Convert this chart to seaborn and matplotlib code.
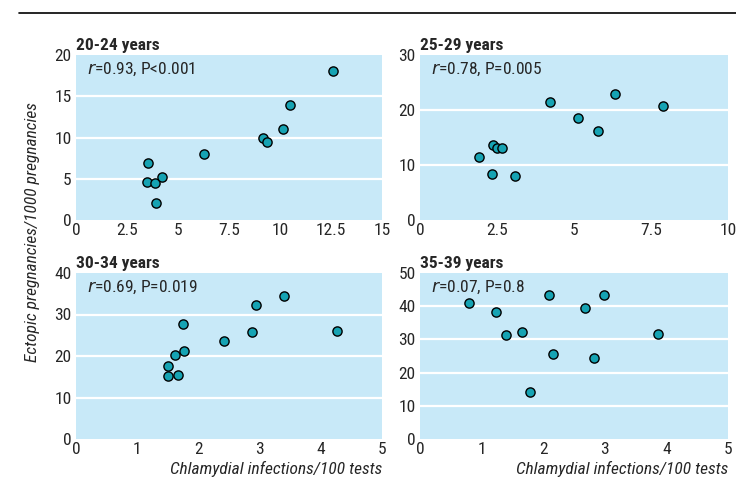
import matplotlib
matplotlib.use("Agg")
import matplotlib.pyplot as plt
import seaborn as sns
import pandas as pd
from matplotlib.lines import Line2D

sns.set_style("white")
FONT = ['Liberation Sans Narrow', 'Roboto Condensed', 'DejaVu Sans']
plt.rcParams['font.family'] = FONT
plt.rcParams['mathtext.fontset'] = 'custom'
plt.rcParams['mathtext.it'] = 'Liberation Sans Narrow:italic'
plt.rcParams['mathtext.rm'] = 'Liberation Sans Narrow'

# ---- data ----
titles = ["20-24 years", "25-29 years", "30-34 years", "35-39 years"]
stats = ["=0.93, P<0.001", "=0.78, P=0.005", "=0.69, P=0.019", "=0.07, P=0.8"]

x_2024 = [3.52, 3.46, 3.86, 4.24, 3.93, 6.28, 9.16, 9.37, 10.15, 10.49, 12.6]
y_2024 = [6.9, 4.6, 4.44, 5.17, 2.06, 7.96, 10.0, 9.45, 11.07, 13.9, 18.06]

x_2529 = [1.92, 2.34, 2.38, 2.50, 2.65, 3.07, 4.22, 5.14, 5.79, 6.32, 7.90]
y_2529 = [11.45, 8.36, 13.7, 13.15, 13.03, 8.0, 21.4, 18.5, 16.2, 22.97, 20.8]

x_3034 = [1.50, 1.51, 1.66, 1.62, 1.77, 1.75, 2.42, 2.88, 2.94, 3.40, 4.26]
y_3034 = [17.7, 15.1, 15.4, 20.3, 21.2, 27.7, 23.7, 25.7, 32.4, 34.4, 26.0]

x_3539 = [0.79, 1.23, 1.40, 1.65, 1.79, 2.10, 2.16, 2.68, 2.82, 2.98, 3.86]
y_3539 = [41.1, 38.2, 31.2, 32.2, 14.2, 43.5, 25.6, 39.5, 24.4, 43.5, 31.5]

xticks_list = [[0, 2.5, 5, 7.5, 10, 12.5, 15], [0, 2.5, 5, 7.5, 10],
               [0, 1, 2, 3, 4, 5], [0, 1, 2, 3, 4, 5]]
xticklabels_list = [["0", "2.5", "5", "7.5", "10", "12.5", "15"],
                    ["0", "2.5", "5", "7.5", "10"],
                    ["0", "1", "2", "3", "4", "5"],
                    ["0", "1", "2", "3", "4", "5"]]
yticks_list = [[0, 5, 10, 15, 20], [0, 10, 20, 30],
               [0, 10, 20, 30, 40], [0, 10, 20, 30, 40, 50]]

xs = [x_2024, x_2529, x_3034, x_3539]
ys = [y_2024, y_2529, y_3034, y_3539]

W, H = 736, 483
fig = plt.figure(figsize=(W / 100, H / 100), dpi=100)

boxes = [(76, 55, 382, 220), (420, 55, 728, 220),
         (76, 273, 382, 439), (420, 273, 728, 439)]

BG = "#c8e9f8"
MARK = "#16a3b3"
FS = 12.5

for i in range(4):
    l, t, r, b = boxes[i]
    ax = fig.add_axes([l / W, 1 - b / H, (r - l) / W, (b - t) / H])
    ax.set_facecolor(BG)
    df = pd.DataFrame({"x": xs[i], "y": ys[i]})
    xt = xticks_list[i]
    yt = yticks_list[i]
    ax.set_xlim(xt[0], xt[-1])
    ax.set_ylim(yt[0], yt[-1])
    for yv in yt[1:-1]:
        ax.axhline(yv, color="white", lw=1.6, zorder=1)
    sns.scatterplot(data=df, x="x", y="y", ax=ax, s=44, color=MARK,
                    edgecolor="black", linewidth=1.0, zorder=3, legend=False)
    ax.set_xticks(xt)
    ax.set_xticklabels(xticklabels_list[i])
    ax.set_yticks(yt)
    ax.tick_params(axis="x", direction="in", length=6, width=1.6,
                   color="white", labelsize=FS, pad=2)
    ax.tick_params(axis="y", length=0, labelsize=FS, pad=3)
    for sp in ax.spines.values():
        sp.set_visible(False)
    ax.set_ylabel("")
    if i >= 2:
        ax.set_xlabel("Chlamydial infections/100 tests", loc="right",
                      style="italic", fontsize=FS, labelpad=3)
    else:
        ax.set_xlabel("")
    ax.text(0, 1.015, titles[i], transform=ax.transAxes, ha="left",
            va="bottom", fontsize=FS, fontweight="bold")
    ax.text(11 / (r - l), 1 - 14 / (b - t), r"$\mathit{r}$" + stats[i],
            transform=ax.transAxes, ha="left", va="center", fontsize=FS)

fig.add_artist(Line2D([19 / W, 1], [1 - 13 / H, 1 - 13 / H], color="black",
                      lw=1.2, transform=fig.transFigure))
fig.text(33 / W, 1 - 232 / H, "Ectopic pregnancies/1000 pregnancies",
         rotation=90, ha="center", va="center", style="italic", fontsize=FS)

fig.savefig("out.png", dpi=100)
